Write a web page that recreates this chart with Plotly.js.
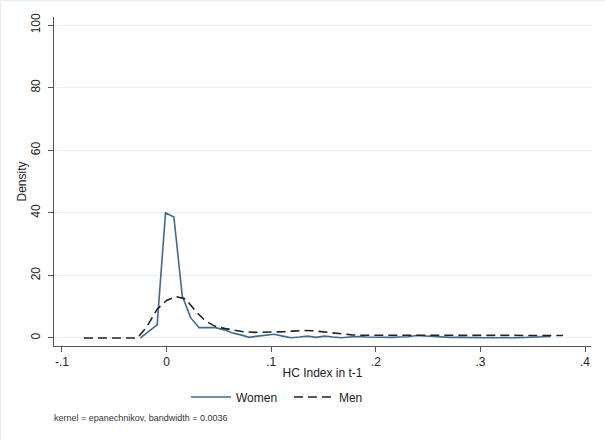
<!DOCTYPE html>
<html>
<head>
<meta charset="utf-8">
<script src="https://cdn.plot.ly/plotly-3.0.1.min.js"></script>
<style>
html,body{margin:0;padding:0;background:#fff;}
#chart{width:605px;height:440px;box-sizing:border-box;border:1px solid #e4eef0;}
</style>
</head>
<body>
<div id="chart"></div>
<script>
// Women density (kdensity evaluation points)
const womenX = [-0.025,-0.017,-0.009,-0.001,0.007,0.015,0.023,0.031,0.039,0.047,
  0.055,0.063,0.071,0.079,0.087,0.095,0.103,0.111,0.119,0.127,
  0.135,0.143,0.151,0.159,0.167,0.175,0.183,0.191,0.199,0.207,
  0.215,0.223,0.231,0.239,0.247,0.255,0.263,0.271,0.279,0.287,
  0.295,0.303,0.311,0.319,0.327,0.335,0.343,0.351,0.359,0.367];
const womenY = [0,2.1,4.2,40,38.7,13.4,6.5,3.3,3.3,3.3,
  2.6,1.6,1.0,0.2,0.6,0.8,1.2,0.6,0.1,0.3,
  0.6,0.2,0.6,0.3,0.1,0.3,0.5,0.3,0.2,0.2,
  0.2,0.3,0.4,0.8,0.6,0.4,0.3,0.2,0.2,0.1,
  0.2,0.1,0.1,0.2,0.1,0.1,0.2,0.2,0.4,0.5];
// Men density
const menX = [-0.079,-0.070,-0.060,-0.051,-0.042,-0.032,-0.028,-0.019,-0.009,0.000,
  0.009,0.018,0.028,0.037,0.046,0.056,0.065,0.074,0.084,0.093,
  0.102,0.112,0.121,0.130,0.140,0.149,0.158,0.168,0.177,0.186,
  0.196,0.205,0.214,0.224,0.233,0.242,0.252,0.261,0.270,0.280,
  0.289,0.298,0.308,0.317,0.326,0.336,0.345,0.354,0.364,0.379];
const menY = [0,0,0,0,0,0,0,3.5,9.2,12.0,
  13.2,12.5,8.5,5.5,3.8,3.0,2.5,2.0,1.8,1.8,
  1.9,2.0,2.2,2.4,2.3,2.0,1.6,1.2,1.0,0.9,
  0.9,0.9,0.9,0.9,0.9,1.0,1.0,0.9,0.9,0.8,
  0.8,0.8,0.8,0.8,0.8,0.9,0.9,1.0,1.0,0.8];

const xTickVals = [-0.1,0,0.1,0.2,0.3,0.4];
const xTickText = ["-.1","0",".1",".2",".3",".4"];
const yTickVals = [0,20,40,60,80,100];
const yTickText = ["0","20","40","60","80","100"];

const traces = [
  {x: womenX, y: womenY, type:'scatter', mode:'lines', name:'Women',
   line:{color:'#3f6a93', width:1.6}},
  {x: menX, y: menY, type:'scatter', mode:'lines', name:'Men',
   line:{color:'#222222', width:1.6, dash:'9px,5px'}}
];

const layout = {
  width:605, height:440,
  margin:{l:53, r:15, t:16, b:95},
  paper_bgcolor:'#ffffff', plot_bgcolor:'#ffffff',
  font:{family:'Liberation Sans, Arial, sans-serif', size:12, color:'#222'},
  showlegend:true,
  legend:{orientation:'h', x:0.2457, xanchor:'left', y:-0.155, yanchor:'middle',
          itemwidth:40, entrywidth:48, entrywidthmode:'pixels',
          font:{size:12, color:'#222'}, bgcolor:'rgba(0,0,0,0)'},
  xaxis:{range:[-0.1076,0.4057], tickvals:xTickVals, ticktext:xTickText,
         ticks:'outside', ticklen:5, tickcolor:'#555', showline:true, linecolor:'#555',
         showgrid:false, zeroline:false,
         title:{text:'HC Index in t-1', font:{size:12}, standoff:0}},
  yaxis:{range:[-2.56,102.6], tickvals:yTickVals, ticktext:yTickText, tickangle:-90,
         ticks:'outside', ticklen:5, tickcolor:'#555', showline:true, linecolor:'#555',
         ticklabelstandoff:3,
         showgrid:true, gridcolor:'#e8f1f2', zeroline:true, zerolinecolor:'#e8f1f2',
         title:{text:'Density', font:{size:12}, standoff:0}},
  annotations:[{xref:'paper', yref:'paper', x:-0.004, y:-0.22, xanchor:'left', yanchor:'middle',
    text:'kernel = epanechnikov, bandwidth = 0.0036', showarrow:false,
    font:{size:9, color:'#333'}}]
};

Plotly.newPlot('chart', traces, layout, {displayModeBar:false, staticPlot:true});
</script>
</body>
</html>
